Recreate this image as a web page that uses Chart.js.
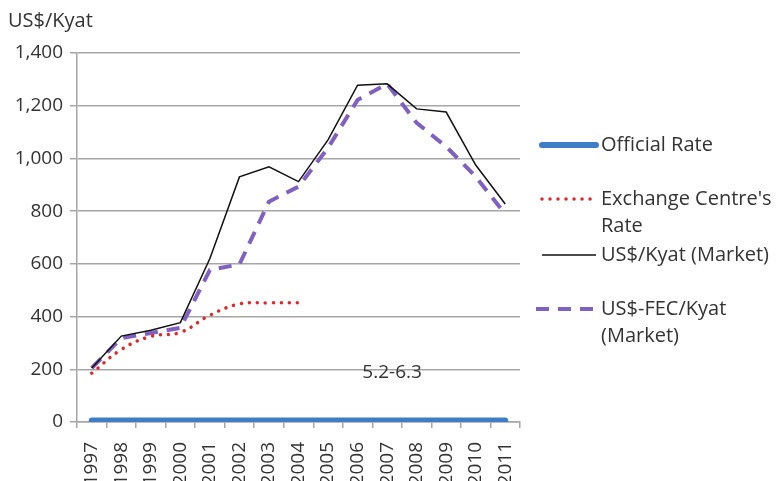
<!DOCTYPE html>
<html>
<head>
<meta charset="utf-8">
<script src="https://cdn.jsdelivr.net/npm/chart.js@4.4.1/dist/chart.umd.min.js"></script>
<style>
  html, body { margin: 0; padding: 0; background: #fff; }
  #wrap { width: 776px; height: 481px; }
</style>
</head>
<body>
<div id="wrap"><canvas id="chart" width="776" height="481"></canvas></div>
<script>
const years = ["1997", "1998", "1999", "2000", "2001", "2002", "2003", "2004",
  "2005", "2006", "2007", "2008", "2009", "2010", "2011"];

const officialRate = [6, 6, 6, 6, 6, 6, 6, 6, 6, 6, 6, 6, 6, 6, 6];
const exchangeCentreRate = [185, 275, 325, 340, 405, 448, 452, 452,
  null, null, null, null, null, null, null];
const marketRate = [205, 326, 348, 377, 620, 930, 968, 912, 1070, 1278, 1283, 1188, 1176, 975, 827];
const fecMarketRate = [205, 318, 338, 357, 577, 598, 836, 893, 1040, 1222, 1283, 1135, 1045, 931, 789];

const yTicks = [0, 200, 400, 600, 800, 1000, 1200, 1400];
const annotationText = "5.2-6.3";
const yTitle = "US$/Kyat";

const textColor = "#333333";
const gridColor = "#a6a6a6";
const fontFamily = "'Open Sans', sans-serif";

const datasets = [
  {
    label: "Official Rate",
    legendLines: ["Official Rate"],
    data: officialRate,
    borderColor: "#3f7ec6",
    borderWidth: 6,
    borderCapStyle: "round",
    tension: 0
  },
  {
    label: "Exchange Centre's Rate",
    legendLines: ["Exchange Centre's", "Rate"],
    data: exchangeCentreRate,
    borderColor: "#e0262a",
    borderWidth: 3.5,
    borderDash: [0.01, 8],
    borderCapStyle: "round",
    tension: 0.4
  },
  {
    label: "US$/Kyat (Market)",
    legendLines: ["US$/Kyat (Market)"],
    data: marketRate,
    borderColor: "#111111",
    borderWidth: 1.5,
    tension: 0
  },
  {
    label: "US$-FEC/Kyat (Market)",
    legendLines: ["US$-FEC/Kyat", "(Market)"],
    data: fecMarketRate,
    borderColor: "#8060c0",
    borderWidth: 4,
    borderDash: [13, 9],
    tension: 0
  }
];

// legend, axis title and the range note drawn on the canvas
const extrasPlugin = {
  id: "extras",
  afterDraw(chart) {
    const ctx = chart.ctx;
    const x = chart.scales.x;
    const y = chart.scales.y;
    ctx.save();
    ctx.fillStyle = textColor;
    ctx.textBaseline = "middle";

    ctx.font = "20px " + fontFamily;
    ctx.textAlign = "left";
    ctx.fillText(yTitle, 8, 21);

    ctx.font = "19px " + fontFamily;
    ctx.textAlign = "center";
    ctx.fillText(annotationText, x.getPixelForValue(10.17), y.getPixelForValue(186));

    const legendTops = [145, 199, 255, 309];
    ctx.font = "20px " + fontFamily;
    ctx.textAlign = "left";
    chart.data.datasets.forEach((ds, i) => {
      const ly = legendTops[i];
      ctx.save();
      ctx.strokeStyle = ds.borderColor;
      ctx.lineWidth = ds.borderWidth;
      ctx.lineCap = ds.borderCapStyle || "butt";
      ctx.setLineDash(ds.borderDash || []);
      ctx.beginPath();
      ctx.moveTo(ds.borderDash && ds.borderDash[0] > 1 ? 536 : 542, ly);
      ctx.lineTo(596, ly);
      ctx.stroke();
      ctx.restore();
      ds.legendLines.forEach((line, j) => {
        ctx.fillText(line, 601, ly + j * 27);
      });
    });
    ctx.restore();
  }
};

new Chart(document.getElementById("chart"), {
  type: "line",
  data: { labels: years, datasets },
  options: {
    responsive: false,
    animation: false,
    devicePixelRatio: 1,
    layout: { padding: { top: 53, right: 256, left: 0, bottom: 0 } },
    elements: { point: { radius: 0 } },
    plugins: {
      legend: { display: false },
      tooltip: { enabled: false }
    },
    scales: {
      x: {
        offset: true,
        afterFit(scale) { scale.height = 59; },
        grid: {
          offset: true,
          drawOnChartArea: false,
          color: gridColor,
          lineWidth: 1.5,
          tickLength: 6
        },
        border: { color: gridColor, width: 1.5 },
        ticks: {
          color: textColor,
          font: { family: fontFamily, size: 19 },
          minRotation: 90,
          maxRotation: 90,
          autoSkip: false,
          padding: 14
        }
      },
      y: {
        min: 0,
        max: 1400,
        afterFit(scale) { scale.width = 77; },
        afterBuildTicks(scale) { scale.ticks = yTicks.map(v => ({ value: v })); },
        grid: {
          color: gridColor,
          lineWidth: 1.5,
          tickLength: 7
        },
        border: { color: gridColor, width: 1.5 },
        ticks: {
          color: textColor,
          font: { family: fontFamily, size: 19 },
          padding: 7,
          callback: v => v.toLocaleString("en-US")
        }
      }
    }
  },
  plugins: [extrasPlugin]
});
</script>
</body>
</html>
